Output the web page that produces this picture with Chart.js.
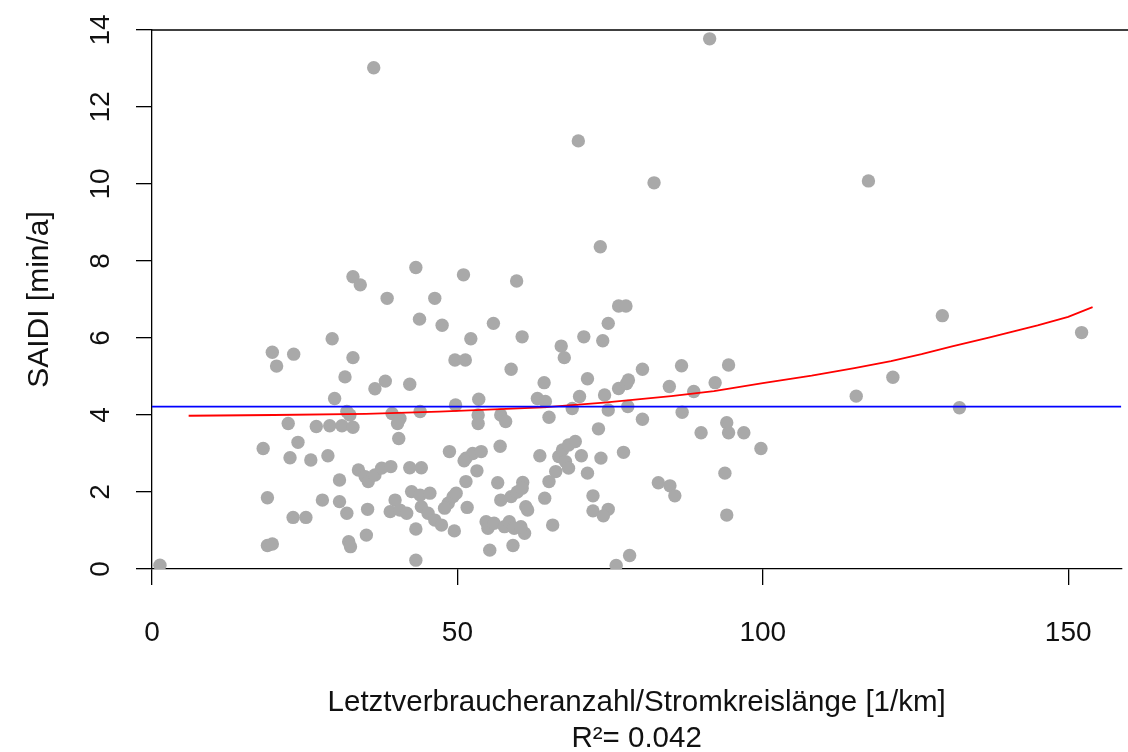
<!DOCTYPE html>
<html>
<head>
<meta charset="utf-8">
<script src="https://cdn.jsdelivr.net/npm/chart.js@4"></script>
<style>
  html, body { margin: 0; padding: 0; background: #fff; overflow: hidden; }
</style>
</head>
<body>
<canvas id="saidiChart" width="1128" height="752"></canvas>
<script>
// Letztverbraucheranzahl/Stromkreislaenge [1/km] per network operator
const density = [
  36.3, 91.3, 69.8, 82.2, 117.3, 73.4, 43.2, 32.9, 34.1, 51.0,
  59.7, 38.5, 46.3, 43.8, 47.5, 55.9, 52.2, 60.6, 29.5, 19.7,
  23.2, 20.4, 32.9, 49.6, 51.3, 58.8, 31.6, 38.2, 36.5, 42.2,
  29.9, 49.7, 53.5, 76.4, 77.6, 74.7, 70.7, 73.8, 67.0, 67.5,
  64.2, 71.3, 80.3, 86.7, 94.4, 76.4, 77.7, 78.0, 84.7, 88.7,
  92.2, 63.1, 64.4, 70.0, 74.1, 68.8, 74.7, 77.9, 65.0, 80.3,
  86.8, 73.1, 89.9, 94.1, 94.4, 96.9, 99.7, 63.5, 66.6, 67.2,
  68.2, 69.3, 67.7, 68.2, 70.3, 73.5, 77.2, 71.3, 66.1, 65.0,
  60.7, 64.3, 72.2, 72.2, 74.7, 73.9, 82.9, 84.8, 85.6, 93.8,
  94.1, 65.6, 61.2, 61.0, 78.2, 76.0, 129.4, 152.2, 121.3, 115.3,
  132.2, 1.3, 31.9, 32.4, 22.3, 26.9, 29.1, 31.1, 32.9, 39.3,
  40.6, 40.2, 40.4, 43.9, 53.4, 53.4, 57.1, 57.9, 18.2, 23.9,
  22.6, 26.0, 28.8, 48.7, 51.4, 52.5, 53.9, 51.1, 57.0, 33.8,
  34.9, 35.4, 36.5, 37.6, 39.1, 42.2, 44.1, 53.2, 30.7, 51.4,
  56.6, 18.9, 27.9, 30.7, 31.9, 35.3, 42.5, 43.9, 45.5, 39.8,
  39.0, 40.6, 41.7, 44.1, 45.2, 46.3, 47.4, 48.5, 49.3, 49.8,
  47.9, 51.6, 49.5, 43.2, 35.1, 32.2, 32.5, 18.9, 19.7, 23.1,
  25.2, 43.2, 54.7, 55.0, 56.0, 57.7, 58.5, 59.3, 60.4, 55.3,
  59.1, 57.1, 58.8, 59.8, 60.6, 61.5
];

// SAIDI [min/a], same order as density
const saidi = [
  13.02, 13.77, 11.12, 10.03, 10.08, 8.37, 7.83, 7.59, 7.38, 7.64,
  7.48, 7.03, 7.03, 6.49, 6.33, 6.38, 5.98, 6.03, 5.98, 5.63,
  5.58, 5.27, 5.49, 5.43, 5.43, 5.19, 4.99, 4.88, 4.68, 4.80,
  4.43, 4.26, 4.41, 6.83, 6.83, 6.38, 6.03, 5.93, 5.79, 5.49,
  4.84, 4.94, 5.19, 5.28, 5.30, 4.69, 4.82, 4.91, 4.74, 4.61,
  4.84, 4.43, 4.35, 4.48, 4.52, 4.17, 4.13, 4.22, 3.94, 3.89,
  4.07, 3.64, 3.54, 3.80, 3.54, 3.54, 3.13, 2.94, 2.92, 3.09,
  3.22, 3.31, 2.79, 2.62, 2.94, 2.88, 3.03, 2.49, 2.53, 2.27,
  2.25, 1.84, 1.90, 1.51, 1.55, 1.38, 2.24, 2.16, 1.90, 2.49,
  1.40, 1.14, 1.62, 0.93, 0.35, 0.09, 6.58, 6.14, 4.98, 4.49,
  4.19, 0.10, 4.09, 4.00, 3.78, 3.70, 3.72, 3.72, 3.68, 4.04,
  3.91, 3.78, 3.39, 4.09, 4.00, 3.78, 4.00, 3.83, 3.13, 3.29,
  2.89, 2.83, 2.94, 3.05, 2.88, 3.00, 3.05, 2.81, 3.19, 2.57,
  2.40, 2.27, 2.44, 2.62, 2.66, 2.63, 2.63, 2.55, 2.31, 2.27,
  2.24, 1.85, 1.79, 1.75, 1.45, 1.55, 2.01, 1.92, 1.97, 1.79,
  1.49, 1.53, 1.45, 1.62, 1.45, 1.27, 1.14, 1.71, 1.88, 1.97,
  1.58, 1.60, 0.99, 1.04, 0.88, 0.71, 0.58, 0.61, 0.65, 1.34,
  1.34, 0.23, 1.23, 1.06, 1.19, 1.10, 1.23, 1.06, 1.10, 0.49,
  0.61, 1.79, 1.88, 2.00, 2.10, 1.53
];

// fitted curve (red)
const trendX = [6, 20, 35, 47, 55, 64, 74, 85, 92, 100, 108, 115, 121, 126, 131, 137, 145, 150, 154];
const trendY = [3.98, 4.0, 4.03, 4.09, 4.14, 4.2, 4.32, 4.49, 4.62, 4.83, 5.02, 5.22, 5.4, 5.58, 5.78, 6.01, 6.33, 6.55, 6.8];

// mean SAIDI (blue)
const meanSaidi = 4.22;

const xTicks = [0, 50, 100, 150];
const yTicks = [0, 2, 4, 6, 8, 10, 12, 14];
const xLimit = [0, 158.7];
const yLimit = [0, 14];

const FONT = '"Liberation Sans", Arial, sans-serif';

// box top edge and rotated y tick labels like R's base graphics
const framePlugin = {
    id: 'frame',
    afterDraw(chart) {
        const { ctx, chartArea, scales } = chart;
        ctx.save();
        ctx.strokeStyle = '#000';
        ctx.lineWidth = 1.3;
        ctx.beginPath();
        ctx.moveTo(chartArea.left, chartArea.top);
        ctx.lineTo(chart.width, chartArea.top);
        ctx.stroke();

        ctx.font = '28px ' + FONT;
        ctx.fillStyle = '#111';
        ctx.textAlign = 'center';
        ctx.textBaseline = 'middle';
        scales.y.ticks.forEach(t => {
            const py = scales.y.getPixelForValue(t.value);
            ctx.save();
            ctx.translate(101, py);
            ctx.rotate(-Math.PI / 2);
            ctx.fillText(String(t.value), 0, 0);
            ctx.restore();
        });
        ctx.restore();
    }
};

const ctx = document.getElementById('saidiChart').getContext('2d');
new Chart(ctx, {
    type: 'scatter',
    data: {
        datasets: [{
            label: 'Mittelwert',
            data: xLimit.map(x => ({ x: x, y: meanSaidi })),
            showLine: true,
            borderColor: '#0000ff',
            borderWidth: 1.8,
            pointRadius: 0,
            order: 0,
            clip: 0
        }, {
            label: 'Trend',
            data: trendX.map((x, i) => ({ x: x, y: trendY[i] })),
            showLine: true,
            borderColor: '#ff0000',
            borderWidth: 1.8,
            pointRadius: 0,
            tension: 0,
            order: 0,
            clip: 0
        }, {
            label: 'SAIDI',
            data: density.map((x, i) => ({ x: x, y: saidi[i] })),
            backgroundColor: '#a9a9a9',
            borderWidth: 0,
            pointRadius: 6.7,
            order: 1,
            clip: 0
        }]
    },
    options: {
        responsive: false,
        animation: false,
        layout: { padding: { top: 30, right: 0, left: 0, bottom: 0 } },
        plugins: {
            legend: { display: false },
            tooltip: { enabled: false }
        },
        scales: {
            x: {
                type: 'linear',
                min: xLimit[0],
                max: xLimit[1],
                afterBuildTicks: scale => { scale.ticks = xTicks.map(v => ({ value: v })); },
                afterFit: scale => { scale.height = 183; },
                grid: {
                    drawOnChartArea: false,
                    drawTicks: true,
                    tickLength: 16,
                    color: '#000',
                    lineWidth: 1.3
                },
                border: { display: true, color: '#000', width: 1.3 },
                ticks: {
                    padding: 31,
                    color: '#111',
                    font: { family: FONT, size: 28 },
                    maxRotation: 0
                },
                title: {
                    display: true,
                    text: ['Letztverbraucheranzahl/Stromkreislänge [1/km]', 'R²= 0.042'],
                    color: '#111',
                    font: { family: FONT, size: 29.5, lineHeight: 1.19 },
                    padding: { top: 0, bottom: -4 }
                }
            },
            y: {
                type: 'linear',
                min: yLimit[0],
                max: yLimit[1],
                afterBuildTicks: scale => { scale.ticks = yTicks.map(v => ({ value: v })); },
                afterFit: scale => { scale.width = 152; },
                grid: {
                    drawOnChartArea: false,
                    drawTicks: true,
                    tickLength: 16,
                    color: '#000',
                    lineWidth: 1.3
                },
                border: { display: true, color: '#000', width: 1.3 },
                ticks: { display: false },
                title: {
                    display: true,
                    text: 'SAIDI [min/a]',
                    color: '#111',
                    font: { family: FONT, size: 30, lineHeight: 1.2 },
                    padding: { top: 22, bottom: 0 }
                }
            }
        }
    },
    plugins: [framePlugin]
});
</script>
</body>
</html>
